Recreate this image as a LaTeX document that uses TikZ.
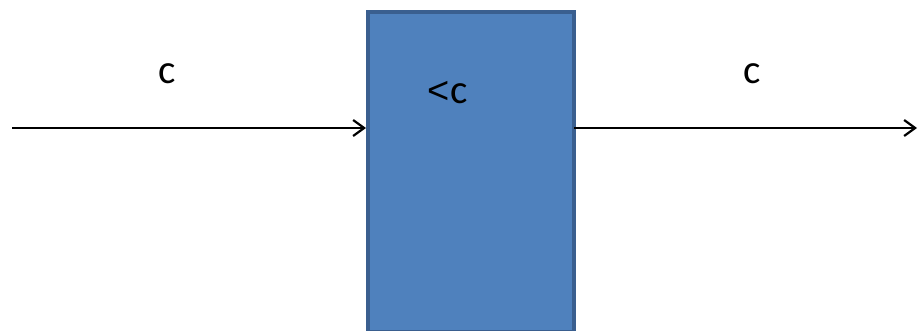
\documentclass[tikz,border=0pt]{standalone}
\usepackage{fontspec}
\setmainfont{Carlito}
\newfontfamily\ltfont{Liberation Sans}
\usetikzlibrary{arrows.meta}
\definecolor{boxfill}{HTML}{4F81BD}
\definecolor{boxedge}{HTML}{3A5F8F}
\begin{document}
\begin{tikzpicture}[x=1pt,y=-1pt,
  blk/.style={draw=boxedge,fill=boxfill,line width=3.5pt,minimum width=206pt,minimum height=320pt,inner sep=0pt,anchor=north west},
  lbl/.style={font=\fontsize{41}{43}\selectfont,text=black,inner sep=0pt},
  conn/.style={line width=2.2pt,-{Straight Barb[length=11pt,width=16pt,line width=2.2pt]}}]
\useasboundingbox (0,0) rectangle (918,330);
\node[blk] (box) at (366,10) {};
\coordinate (src) at (12,128);
\coordinate (dst) at (917,128);
\coordinate (inL) at (366,128);
\coordinate (outR) at (574,128);
\draw[conn] (src) -- (inL);
\draw[conn] (outR) -- (dst);
\node[lbl] (c1) at (167,74) {c};
\node[lbl] (c2) at (752,74) {c};
\node[lbl] (c3) at (448,93) {{\ltfont\fontsize{38}{40}\selectfont\symbol{60}}\kern1pt c};
\end{tikzpicture}
\end{document}
